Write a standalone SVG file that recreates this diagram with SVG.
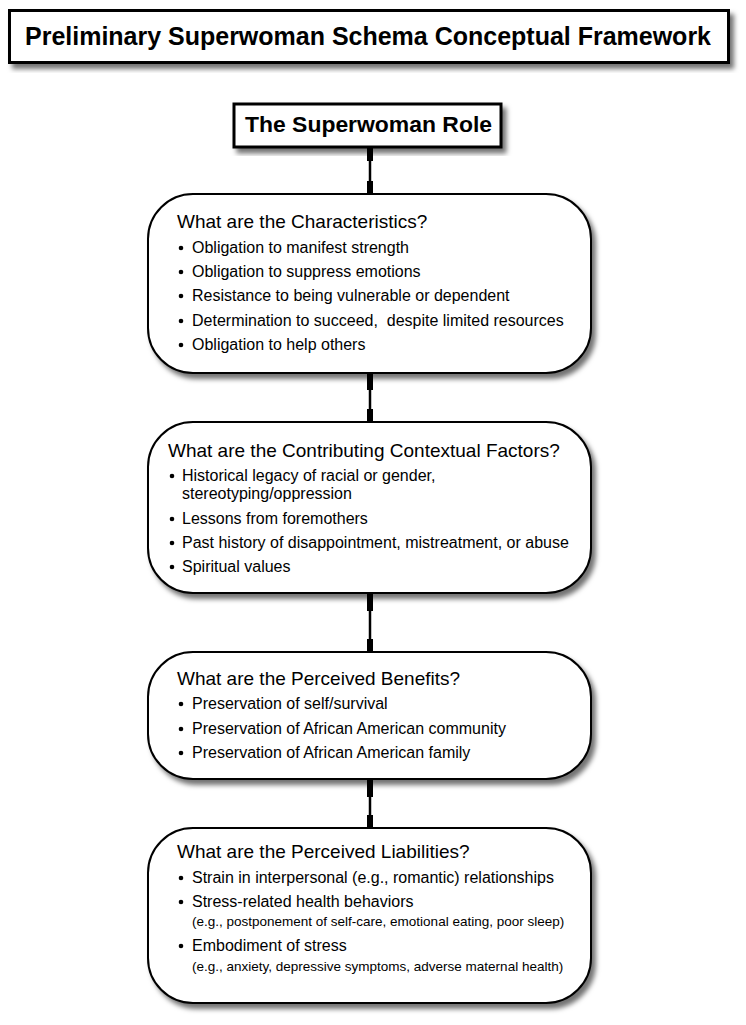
<svg xmlns="http://www.w3.org/2000/svg" width="746" height="1025" viewBox="0 0 746 1025">
<defs>
<filter id="sh" x="-10%" y="-10%" width="125%" height="130%">
<feDropShadow dx="4" dy="5" stdDeviation="2.5" flood-color="#000" flood-opacity="0.55"/>
</filter>
<style>
.sq{fill:#fff;stroke:#000;stroke-width:3;filter:url(#sh)}
.rb{fill:#fff;stroke:#000;stroke-width:2;filter:url(#sh)}
.t{font-family:"Liberation Sans",Arial,sans-serif;fill:#000}
.bold{font-weight:bold}
.h{font-size:19px}
.b{font-size:16px}
.s{font-size:13.5px}
.dot{fill:#000}
.ln{stroke:#000;stroke-width:2.5;fill:none}
.stub{fill:#000}
</style>
</defs>
<rect width="746" height="1025" fill="#fff"/>

<g id="title">
<rect class="sq" x="9.5" y="10.5" width="719" height="52"/>
<text class="t bold" x="25" y="45" font-size="25" textLength="686" lengthAdjust="spacingAndGlyphs">Preliminary Superwoman Schema Conceptual Framework</text>
</g>

<g id="connectors">
<line class="ln" x1="370" y1="147" x2="370" y2="194"/>
<rect class="stub" x="367" y="147" width="6" height="14"/>
<rect class="stub" x="367" y="181" width="6" height="13"/>
<line class="ln" x1="370" y1="373" x2="370" y2="422"/>
<rect class="stub" x="367" y="373" width="6" height="17"/>
<rect class="stub" x="367" y="409" width="6" height="13"/>
<line class="ln" x1="370" y1="593" x2="370" y2="652"/>
<rect class="stub" x="367" y="593" width="6" height="18"/>
<rect class="stub" x="367" y="639" width="6" height="13"/>
<line class="ln" x1="370" y1="779" x2="370" y2="828"/>
<rect class="stub" x="367" y="779" width="6" height="18"/>
<rect class="stub" x="367" y="815" width="6" height="13"/>
</g>

<g id="role">
<rect class="sq" x="234" y="104" width="267" height="43"/>
<text class="t bold" x="245" y="132" font-size="22" textLength="247" lengthAdjust="spacingAndGlyphs">The Superwoman Role</text>
</g>

<g id="characteristics">
<rect class="rb" x="148" y="194" width="443" height="179" rx="45" ry="45"/>
<text class="t h" x="177" y="228">What are the Characteristics?</text>
<circle class="dot" cx="181" cy="248" r="2.3"/>
<text class="t b" x="192" y="253">Obligation to manifest strength</text>
<circle class="dot" cx="181" cy="272" r="2.3"/>
<text class="t b" x="192" y="277">Obligation to suppress emotions</text>
<circle class="dot" cx="181" cy="296" r="2.3"/>
<text class="t b" x="192" y="301">Resistance to being vulnerable or dependent</text>
<circle class="dot" cx="181" cy="321" r="2.3"/>
<text class="t b" x="192" y="326" xml:space="preserve">Determination to succeed,  despite limited resources</text>
<circle class="dot" cx="181" cy="345" r="2.3"/>
<text class="t b" x="192" y="350">Obligation to help others</text>
</g>

<g id="factors">
<rect class="rb" x="148" y="422" width="443" height="171" rx="45" ry="45"/>
<text class="t h" x="168" y="457">What are the Contributing Contextual Factors?</text>
<circle class="dot" cx="172" cy="476" r="2.3"/>
<text class="t b" x="182" y="481">Historical legacy of racial or gender,</text>
<text class="t b" x="182" y="499">stereotyping/oppression</text>
<circle class="dot" cx="172" cy="519" r="2.3"/>
<text class="t b" x="182" y="524">Lessons from foremothers</text>
<circle class="dot" cx="172" cy="543" r="2.3"/>
<text class="t b" x="182" y="548">Past history of disappointment, mistreatment, or abuse</text>
<circle class="dot" cx="172" cy="567" r="2.3"/>
<text class="t b" x="182" y="572">Spiritual values</text>
</g>

<g id="benefits">
<rect class="rb" x="148" y="652" width="443" height="127" rx="45" ry="45"/>
<text class="t h" x="177" y="685">What are the Perceived Benefits?</text>
<circle class="dot" cx="181" cy="704" r="2.3"/>
<text class="t b" x="192" y="709">Preservation of self/survival</text>
<circle class="dot" cx="181" cy="729" r="2.3"/>
<text class="t b" x="192" y="734">Preservation of African American community</text>
<circle class="dot" cx="181" cy="753" r="2.3"/>
<text class="t b" x="192" y="758">Preservation of African American family</text>
</g>

<g id="liabilities">
<rect class="rb" x="148" y="828" width="443" height="175" rx="45" ry="45"/>
<text class="t h" x="177" y="858">What are the Perceived Liabilities?</text>
<circle class="dot" cx="181" cy="878" r="2.3"/>
<text class="t b" x="192" y="883">Strain in interpersonal (e.g., romantic) relationships</text>
<circle class="dot" cx="181" cy="902" r="2.3"/>
<text class="t b" x="192" y="907">Stress-related health behaviors</text>
<text class="t s" x="192" y="926">(e.g., postponement of self-care, emotional eating, poor sleep)</text>
<circle class="dot" cx="181" cy="946" r="2.3"/>
<text class="t b" x="192" y="951">Embodiment of stress</text>
<text class="t s" x="192" y="971">(e.g., anxiety, depressive symptoms, adverse maternal health)</text>
</g>
</svg>
